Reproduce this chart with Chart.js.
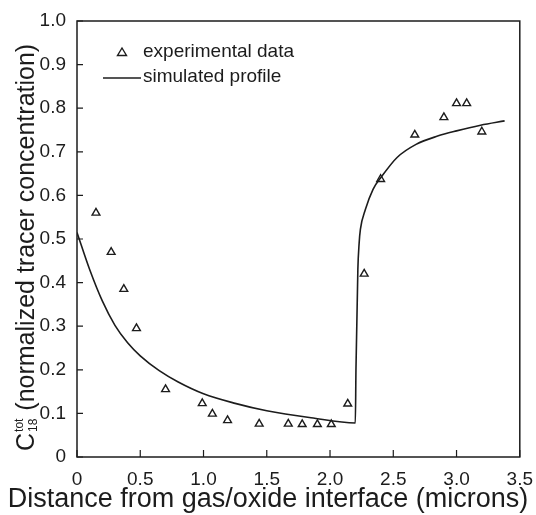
<!DOCTYPE html>
<html>
<head>
<meta charset="utf-8">
<script src="https://cdn.jsdelivr.net/npm/chart.js@4/dist/chart.umd.min.js"></script>
<style>
  html, body { margin: 0; padding: 0; background: #fff; }
  #wrap { width: 536px; height: 515px; }
</style>
</head>
<body>
<div id="wrap"><canvas id="chart"></canvas></div>
<script>
// experimental tracer data (triangles)
const expX = [0.15, 0.27, 0.37, 0.47, 0.70, 0.99, 1.07, 1.19, 1.44, 1.67, 1.78, 1.90, 2.01, 2.14, 2.27, 2.40, 2.67, 2.90, 3.00, 3.08, 3.20];
const expY = [0.56, 0.47, 0.385, 0.295, 0.155, 0.123, 0.099, 0.084, 0.076, 0.076, 0.075, 0.075, 0.075, 0.122, 0.42, 0.637, 0.739, 0.779, 0.811, 0.811, 0.746];

// simulated profile (solid line)
const simX = [0, 0.1, 0.2, 0.3, 0.4, 0.5, 0.65, 0.8, 1.0, 1.25, 1.5, 1.85, 2.2, 2.205, 2.22, 2.23, 2.24, 2.28, 2.34, 2.41, 2.53, 2.68, 2.85, 3.0, 3.19, 3.38];
const simY = [0.515, 0.43, 0.358, 0.302, 0.262, 0.232, 0.198, 0.172, 0.145, 0.123, 0.106, 0.09, 0.078, 0.2, 0.43, 0.49, 0.522, 0.568, 0.614, 0.644, 0.687, 0.717, 0.736, 0.748, 0.761, 0.771];

const xTicks = [0, 0.5, 1.0, 1.5, 2.0, 2.5, 3.0, 3.5];
const yTicks = [0, 0.1, 0.2, 0.3, 0.4, 0.5, 0.6, 0.7, 0.8, 0.9, 1.0];

const xTitle = 'Distance from gas/oxide interface (microns)';
const yTitle = ' (normalized tracer concentration)';
const expLabel = 'experimental data';
const simLabel = 'simulated profile';

const ink = '#1c1c1c';
const face = "'Liberation Sans', Arial, sans-serif";

const fmt = v => (v === 0 ? '0' : v.toFixed(1));

// frame, inward ticks, legend and axis titles
const decor = {
  id: 'decor',
  afterDraw(chart) {
    const { ctx, chartArea: a, scales: { x, y } } = chart;
    ctx.save();
    ctx.strokeStyle = ink;
    ctx.lineWidth = 1.5;
    ctx.strokeRect(a.left, a.top, a.right - a.left, a.bottom - a.top);

    ctx.lineWidth = 1.2;
    ctx.beginPath();
    xTicks.forEach(v => {
      const px = x.getPixelForValue(v);
      ctx.moveTo(px, a.bottom);
      ctx.lineTo(px, a.bottom - 7);
    });
    yTicks.forEach(v => {
      const py = y.getPixelForValue(v);
      ctx.moveTo(a.left, py);
      ctx.lineTo(a.left + 6, py);
    });
    ctx.stroke();

    // legend
    const lx = a.left + 45, ly1 = a.top + 31, ly2 = a.top + 56;
    ctx.lineWidth = 1.4;
    ctx.beginPath();
    ctx.moveTo(lx, ly1 - 4);
    ctx.lineTo(lx + 4.5, ly1 + 3.5);
    ctx.lineTo(lx - 4.5, ly1 + 3.5);
    ctx.closePath();
    ctx.stroke();
    ctx.beginPath();
    ctx.moveTo(a.left + 26, ly2 + 1);
    ctx.lineTo(a.left + 64, ly2 + 1);
    ctx.stroke();
    ctx.fillStyle = ink;
    ctx.font = '19px ' + face;
    ctx.textBaseline = 'middle';
    ctx.textAlign = 'left';
    ctx.fillText(expLabel, a.left + 66, ly1);
    ctx.fillText(simLabel, a.left + 66, ly2);

    // x title
    ctx.font = '27px ' + face;
    ctx.textAlign = 'center';
    ctx.textBaseline = 'alphabetic';
    ctx.fillText(xTitle, 268, 507);

    // y title: C with stacked tot / 18, rotated
    ctx.textAlign = 'left';
    ctx.textBaseline = 'middle';
    ctx.translate(27, 451);
    ctx.rotate(-Math.PI / 2);
    ctx.font = '25px ' + face;
    ctx.fillText('C', 0, 0);
    const cw = ctx.measureText('C').width;
    ctx.font = '12px ' + face;
    ctx.fillText('tot', cw + 1, -7);
    ctx.fillText('18', cw + 1, 7);
    const sw = ctx.measureText('tot').width;
    ctx.font = '25px ' + face;
    ctx.fillText(yTitle, cw + sw + 2, 0);
    ctx.restore();
  }
};

new Chart(document.getElementById('chart'), {
  type: 'scatter',
  data: {
    datasets: [
      {
        label: expLabel,
        data: expX.map((v, i) => ({ x: v, y: expY[i] })),
        pointStyle: 'triangle',
        pointRadius: 4.5,
        pointBorderWidth: 1.4,
        borderColor: ink,
        backgroundColor: 'rgba(255,255,255,0)',
        showLine: false
      },
      {
        label: simLabel,
        data: simX.map((v, i) => ({ x: v, y: simY[i] })),
        showLine: true,
        pointRadius: 0,
        borderColor: ink,
        borderWidth: 1.6,
        cubicInterpolationMode: 'monotone',
        fill: false
      }
    ]
  },
  options: {
    responsive: true,
    maintainAspectRatio: false,
    animation: false,
    layout: { padding: { top: 21, right: 10, left: 0, bottom: 0 } },
    plugins: {
      legend: { display: false },
      tooltip: { enabled: false }
    },
    scales: {
      x: {
        type: 'linear',
        min: 0,
        max: 3.5,
        afterFit: s => { s.height = 58; },
        afterBuildTicks: s => { s.ticks = xTicks.map(v => ({ value: v })); },
        grid: { display: false },
        border: { display: false },
        ticks: {
          color: ink,
          font: { family: face, size: 19 },
          padding: 3,
          maxRotation: 0,
          callback: v => fmt(v)
        }
      },
      y: {
        type: 'linear',
        min: 0,
        max: 1.0,
        afterFit: s => { s.width = 77; },
        afterBuildTicks: s => { s.ticks = yTicks.map(v => ({ value: v })); },
        grid: { display: false },
        border: { display: false },
        ticks: {
          color: ink,
          font: { family: face, size: 19 },
          padding: 3,
          callback: v => fmt(v)
        }
      }
    }
  },
  plugins: [decor]
});
</script>
</body>
</html>
